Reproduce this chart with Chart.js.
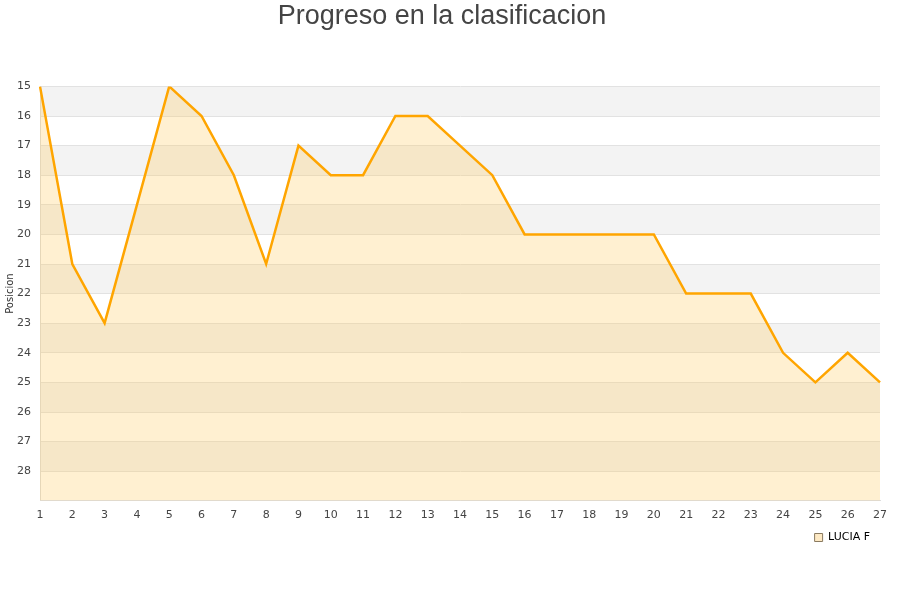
<!DOCTYPE html>
<html>
<head>
<meta charset="utf-8">
<script src="https://cdn.jsdelivr.net/npm/chart.js@4"></script>
<style>
	body { margin: 0; background: #fff; }
	#wrap { width: 900px; height: 600px; }
</style>
</head>
<body>
<div id="wrap"><canvas id="myChart"></canvas></div>
<script>
// data
var jornadas = [1, 2, 3, 4, 5, 6, 7, 8, 9, 10, 11, 12, 13, 14, 15, 16, 17, 18, 19, 20, 21, 22, 23, 24, 25, 26, 27];
var posiciones = [15, 21, 23, 19, 15, 16, 18, 21, 17, 18, 18, 16, 16, 17, 18, 20, 20, 20, 20, 20, 22, 22, 22, 24, 25, 24, 25];
var jugador = 'LUCIA F';
var posMin = 15;
var posMax = 29;

// alternating row bands behind the chart
var bandas = {
	id: 'bandas',
	beforeDraw: function (chart) {
		var a = chart.chartArea, y = chart.scales.y, c = chart.ctx;
		c.save();
		for (var v = posMin; v < posMax; v += 2) {
			var t = y.getPixelForValue(v), b = y.getPixelForValue(v + 1);
			c.fillStyle = '#f3f3f3';
			c.fillRect(a.left, t, a.right - a.left, b - t);
		}
		c.restore();
	}
};

var ctx = document.getElementById('myChart').getContext('2d');
var chart = new Chart(ctx, {
	type: 'line',
	data: {
		labels: jornadas,
		datasets: [{
			label: jugador,
			data: posiciones,
			borderColor: '#ffa500',
			backgroundColor: 'rgba(255, 200, 90, 0.28)',
			borderWidth: 2.5,
			fill: 'start',
			pointRadius: 0,
			tension: 0
		}]
	},
	plugins: [bandas],
	options: {
		responsive: true,
		maintainAspectRatio: false,
		animation: false,
		layout: { padding: { left: 4, right: 20, top: 0, bottom: 47 } },
		plugins: {
			title: {
				display: true,
				text: 'Progreso en la clasificacion',
				color: '#444',
				font: { family: 'Liberation Sans, Arial, sans-serif', size: 27, weight: 'normal' },
				padding: { top: 0, bottom: 54 }
			},
			legend: {
				position: 'bottom',
				align: 'end',
				labels: {
					boxWidth: 8,
					boxHeight: 8,
					padding: 10,
					color: '#000',
					font: { family: 'DejaVu Sans', size: 11 },
					generateLabels: function (chart) {
						var items = Chart.defaults.plugins.legend.labels.generateLabels(chart);
						items.forEach(function (it) {
							it.fillStyle = '#fde9c4';
							it.strokeStyle = '#8a7a60';
							it.lineWidth = 1;
						});
						return items;
					}
				}
			},
			tooltip: { enabled: false }
		},
		scales: {
			x: {
				offset: false,
				grid: { display: false },
				border: { color: '#ddd' },
				ticks: { color: '#444', padding: 0, font: { family: 'DejaVu Sans', size: 11 }, maxRotation: 0, autoSkip: false }
			},
			y: {
				reverse: true,
				min: posMin,
				max: posMax,
				border: { color: '#ddd' },
				grid: { color: '#e2e2e2', drawTicks: false },
				title: { display: true, text: 'Posicion', color: '#333', font: { family: 'DejaVu Sans', size: 10 }, padding: 0 },
				afterFit: function (s) { s.width = 36; },
				ticks: {
					stepSize: 1,
					color: '#444',
					padding: 9,
					font: { family: 'DejaVu Sans', size: 11 },
					callback: function (v) { return v === posMax ? '' : v; }
				}
			}
		}
	}
});
</script>
</body>
</html>
